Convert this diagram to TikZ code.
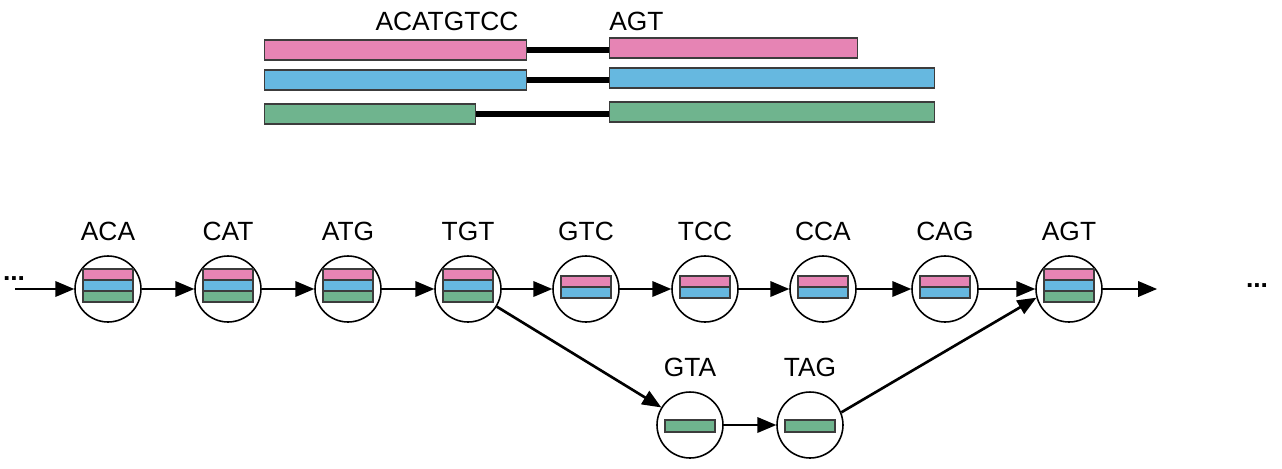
\documentclass[tikz,border=0pt]{standalone}
\usepackage{fontspec}
\setmainfont{Liberation Sans}
\usetikzlibrary{positioning}
\usetikzlibrary{arrows}
\usetikzlibrary{calc}
\definecolor{readpink}{HTML}{E684B4}
\definecolor{readblue}{HTML}{66B8E0}
\definecolor{readgreen}{HTML}{6FB48E}
\definecolor{readedge}{HTML}{3C3C3C}

\begin{document}
\begin{tikzpicture}[x=0.02cm, y=-0.02cm,
				kmer/.style={draw, circle, minimum size=1.32cm, inner sep=0pt, line width=0.9pt},
				read/.style={draw=readedge, rectangle, minimum height=0.4cm, inner sep=0pt, line width=0.6pt},
				stripe/.style={draw=readedge, line width=0.6pt},
				flow/.style={->, >=triangle 45, line width=1.5pt},
				mate/.style={line width=3.4pt},
				seq/.style={font=\fontsize{15}{18}\selectfont, inner sep=0pt},
				every label/.style={font=\fontsize{15}{18}\selectfont, inner sep=0pt},
				label distance=8pt]
				\useasboundingbox (0,0) rectangle (1282,468);
				
				% paired reads
				\node[seq, anchor=base](seq1) at (447,30) {ACATGTCC};
				\node[seq, anchor=base west](seq2) at (609,30) {AGT};
				
				\node[read, fill=readpink, minimum width=5.24cm, anchor=west](pinkL) at (264,50) {};
				\node[read, fill=readpink, minimum width=4.96cm, anchor=west](pinkR) at (609,48) {};
				\node[read, fill=readblue, minimum width=5.24cm, anchor=west](blueL) at (264,80) {};
				\node[read, fill=readblue, minimum width=6.5cm, anchor=west](blueR) at (609,78) {};
				\node[read, fill=readgreen, minimum width=4.22cm, anchor=west](greenL) at (264,114) {};
				\node[read, fill=readgreen, minimum width=6.5cm, anchor=west](greenR) at (609,112) {};
				\draw[mate] (pinkL.east) -- (pinkL.east -| pinkR.west);
				\draw[mate] (blueL.east) -- (blueL.east -| blueR.west);
				\draw[mate] (greenL.east) -- (greenL.east -| greenR.west);
				
				% de Bruijn graph
				\node[kmer, label=above:ACA](ACA) at (108,289) {};
				\node[kmer, label=above:CAT](CAT) at (228,289) {};
				\node[kmer, label=above:ATG](ATG) at (348,289) {};
				\node[kmer, label=above:TGT](TGT) at (468,289) {};
				\node[kmer, label=above:GTC](GTC) at (586,289) {};
				\node[kmer, label=above:TCC](TCC) at (705,289) {};
				\node[kmer, label=above:CCA](CCA) at (823,289) {};
				\node[kmer, label=above:CAG](CAG) at (945,289) {};
				\node[kmer, label=above:AGT](AGT) at (1069,289) {};
				\node[kmer, label=above:GTA](GTA) at (690,425) {};
				\node[kmer, label=above:TAG](TAG) at (810,425) {};
				
				\foreach \k in {ACA, CAT, ATG, TGT, AGT} {
					\draw[stripe, fill=readpink] ($(\k)+(-25,-20)$) rectangle ($(\k)+(25,-9)$);
					\draw[stripe, fill=readblue] ($(\k)+(-25,-9)$) rectangle ($(\k)+(25,2)$);
					\draw[stripe, fill=readgreen] ($(\k)+(-25,2)$) rectangle ($(\k)+(25,13)$);
				}
				\foreach \k in {GTC, TCC, CCA, CAG} {
					\draw[stripe, fill=readpink] ($(\k)+(-25,-13)$) rectangle ($(\k)+(25,-2)$);
					\draw[stripe, fill=readblue] ($(\k)+(-25,-2)$) rectangle ($(\k)+(25,9)$);
				}
				\foreach \k in {GTA, TAG} {
					\draw[stripe, fill=readgreen] ($(\k)+(-25,-5)$) rectangle ($(\k)+(25,7)$);
				}
				
				\node[seq, font=\fontsize{15}{18}\bfseries, anchor=base](dotsL) at (14,280) {...};
				\node[seq, font=\fontsize{15}{18}\bfseries, anchor=base](dotsR) at (1257,287) {...};
				\coordinate (start) at (15,289);
				\coordinate (stop) at (1157,289);
				
				\path[flow] (start) edge (ACA) (ACA) edge (CAT) (CAT) edge (ATG) (ATG) edge (TGT)
					(TGT) edge (GTC) (GTC) edge (TCC) (TCC) edge (CCA) (CCA) edge (CAG)
					(CAG) edge (AGT) (AGT) edge (stop);
				\path[flow] (TGT) edge (GTA) (GTA) edge (TAG) (TAG.22) edge (AGT.195);
			\end{tikzpicture}
\end{document}
